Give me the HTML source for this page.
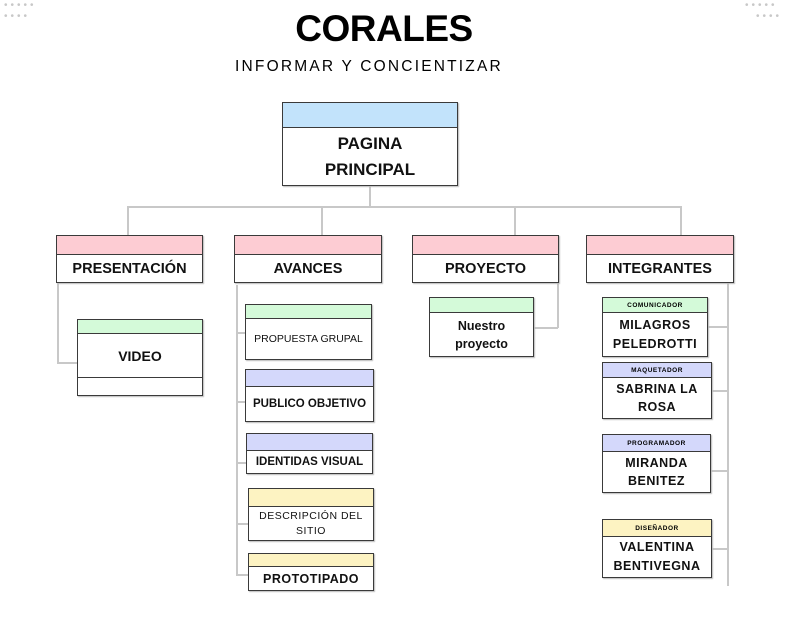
<!DOCTYPE html>
<html><head><meta charset="utf-8"><style>
body{margin:0;width:803px;height:637px;background:#fff;position:relative;overflow:hidden;font-family:"Liberation Sans",sans-serif}
.b{position:absolute;border:1.5px solid #3a3a3a;box-sizing:border-box;background:#fff;display:flex;flex-direction:column;box-shadow:1px 1px 1px #bbb}
.h{border-bottom:1.5px solid #3a3a3a;flex:none;display:flex;align-items:center;justify-content:center;font-size:6.5px;font-weight:bold;letter-spacing:.5px}
.t{flex:1;display:flex;align-items:center;justify-content:center;text-align:center;font-weight:bold;color:#111}
.l{position:absolute;background:#c8c8c8}
.bl{background:#c2e3fb}.pk{background:#fdccd3}.gr{background:#d4fad9}.lv{background:#d4d8fb}.ye{background:#fdf3c2}
.d{position:absolute;color:#c8c8c8;font-size:10px;letter-spacing:3px;line-height:10px}
</style></head><body>
<div class="d" style="left:4px;top:1px">•••••</div><div class="d" style="left:4px;top:12px">••••</div>
<div class="d" style="left:745px;top:1px">•••••</div><div class="d" style="left:756px;top:12px">••••</div>
<div style="position:absolute;left:0;width:768px;top:8px;text-align:center;font-size:37px;font-weight:bold;letter-spacing:-0.5px">CORALES</div>
<div style="position:absolute;left:235px;top:58px;font-size:15.5px;letter-spacing:2.2px">INFORMAR Y CONCIENTIZAR</div>

<div class="l" style="left:369px;top:185px;width:2px;height:22px"></div>
<div class="l" style="left:127px;top:206px;width:554px;height:2px"></div>
<div class="l" style="left:127px;top:206px;width:2px;height:30px"></div>
<div class="l" style="left:321px;top:206px;width:2px;height:30px"></div>
<div class="l" style="left:514px;top:206px;width:2px;height:30px"></div>
<div class="l" style="left:680px;top:206px;width:2px;height:38px"></div>
<div class="l" style="left:57px;top:282px;width:1.5px;height:81px"></div>
<div class="l" style="left:57px;top:362px;width:20px;height:1.5px"></div>
<div class="l" style="left:236px;top:285px;width:1.5px;height:291px"></div>
<div class="l" style="left:236px;top:332px;width:10px;height:1.5px"></div>
<div class="l" style="left:236px;top:401px;width:10px;height:1.5px"></div>
<div class="l" style="left:236px;top:462px;width:10px;height:1.5px"></div>
<div class="l" style="left:236px;top:523px;width:12px;height:1.5px"></div>
<div class="l" style="left:236px;top:574px;width:12px;height:1.5px"></div>
<div class="l" style="left:557px;top:282px;width:1.5px;height:46px"></div>
<div class="l" style="left:533px;top:327px;width:25px;height:1.5px"></div>
<div class="l" style="left:727px;top:282px;width:1.5px;height:304px"></div>
<div class="l" style="left:707px;top:326px;width:21px;height:1.5px"></div>
<div class="l" style="left:711px;top:390px;width:17px;height:1.5px"></div>
<div class="l" style="left:710px;top:470px;width:18px;height:1.5px"></div>
<div class="l" style="left:711px;top:548px;width:17px;height:1.5px"></div>

<div class="b" style="left:282px;top:102px;width:176px;height:84px"><div class="h bl" style="height:24px"></div><div class="t" style="font-size:17px;line-height:26px">PAGINA<br>PRINCIPAL</div></div>

<div class="b" style="left:56px;top:235px;width:147px;height:48px"><div class="h pk" style="height:18px"></div><div class="t" style="font-size:14.5px">PRESENTACIÓN</div></div>
<div class="b" style="left:234px;top:235px;width:148px;height:48px"><div class="h pk" style="height:18px"></div><div class="t" style="font-size:14.5px">AVANCES</div></div>
<div class="b" style="left:412px;top:235px;width:147px;height:48px"><div class="h pk" style="height:18px"></div><div class="t" style="font-size:14.5px">PROYECTO</div></div>
<div class="b" style="left:586px;top:235px;width:148px;height:48px"><div class="h pk" style="height:18px"></div><div class="t" style="font-size:14.5px">INTEGRANTES</div></div>

<div class="b" style="left:77px;top:319px;width:126px;height:77px"><div class="h gr" style="height:13px"></div><div class="t" style="font-size:14px;border-bottom:1.5px solid #3a3a3a">VIDEO</div><div style="height:17px"></div></div>

<div class="b" style="left:245px;top:304px;width:127px;height:56px"><div class="h gr" style="height:13px"></div><div class="t" style="font-size:10.5px;font-weight:normal">PROPUESTA GRUPAL</div></div>
<div class="b" style="left:245px;top:369px;width:129px;height:53px"><div class="h lv" style="height:16px"></div><div class="t" style="font-size:11.5px">PUBLICO OBJETIVO</div></div>
<div class="b" style="left:246px;top:433px;width:127px;height:41px"><div class="h lv" style="height:16px"></div><div class="t" style="font-size:11.5px">IDENTIDAS VISUAL</div></div>
<div class="b" style="left:248px;top:488px;width:126px;height:53px"><div class="h ye" style="height:17px"></div><div class="t" style="font-size:10.5px;font-weight:normal;line-height:15px;letter-spacing:.5px">DESCRIPCIÓN DEL<br>SITIO</div></div>
<div class="b" style="left:248px;top:553px;width:126px;height:38px"><div class="h ye" style="height:12px"></div><div class="t" style="font-size:12.5px;letter-spacing:.5px">PROTOTIPADO</div></div>

<div class="b" style="left:429px;top:297px;width:105px;height:60px"><div class="h gr" style="height:14px"></div><div class="t" style="font-size:12.5px;line-height:18px">Nuestro<br>proyecto</div></div>

<div class="b" style="left:602px;top:297px;width:106px;height:60px"><div class="h gr" style="height:14px">COMUNICADOR</div><div class="t" style="font-size:12.5px;line-height:19px;letter-spacing:.5px">MILAGROS<br>PELEDROTTI</div></div>
<div class="b" style="left:602px;top:362px;width:110px;height:57px"><div class="h lv" style="height:14px">MAQUETADOR</div><div class="t" style="font-size:12.5px;line-height:18px;letter-spacing:.5px">SABRINA LA<br>ROSA</div></div>
<div class="b" style="left:602px;top:434px;width:109px;height:59px"><div class="h lv" style="height:16px">PROGRAMADOR</div><div class="t" style="font-size:12.5px;line-height:18px;letter-spacing:.5px">MIRANDA<br>BENITEZ</div></div>
<div class="b" style="left:602px;top:519px;width:110px;height:59px"><div class="h ye" style="height:16px">DISEÑADOR</div><div class="t" style="font-size:12.5px;line-height:19px;letter-spacing:.5px">VALENTINA<br>BENTIVEGNA</div></div>
</body></html>
